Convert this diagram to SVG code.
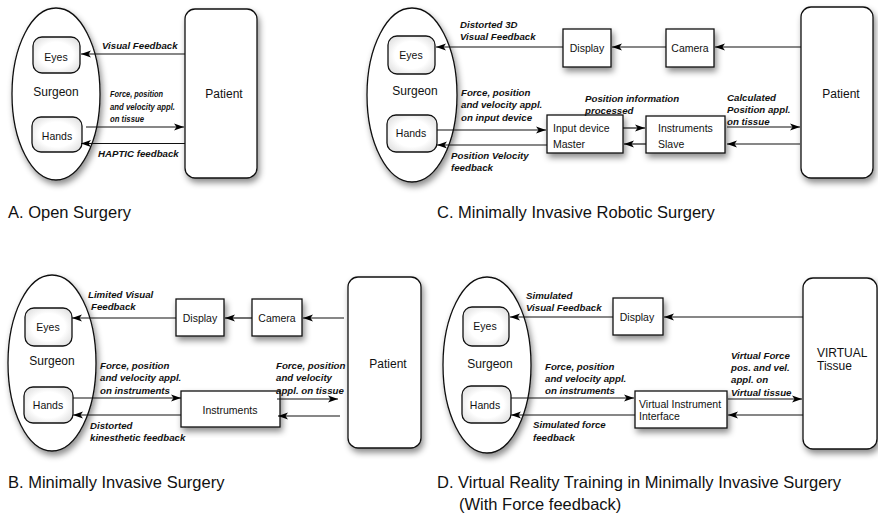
<svg xmlns="http://www.w3.org/2000/svg" width="878" height="515" viewBox="0 0 878 515">
<defs>
  <filter id="sh" x="-30%" y="-30%" width="160%" height="160%">
    <feDropShadow dx="2" dy="4" stdDeviation="3" flood-color="#000" flood-opacity="0.45"/>
  </filter>
  <radialGradient id="rg" cx="50%" cy="50%" r="65%">
    <stop offset="55%" stop-color="#ffffff"/>
    <stop offset="100%" stop-color="#dcdcdc"/>
  </radialGradient>
  <marker id="ah" markerUnits="userSpaceOnUse" markerWidth="11" markerHeight="8" refX="10" refY="4" orient="auto">
    <path d="M0,0.5 L10,4 L0,7.5 L2.5,4 z" fill="#000"/>
  </marker>
  <style>
    .ell{fill:#fff;stroke:#111;stroke-width:1.3;filter:url(#sh)}
    .box{fill:#fff;stroke:#111;stroke-width:1.3;filter:url(#sh)}
    .rbox{fill:url(#rg);stroke:#111;stroke-width:1.3}
    .big{fill:#fff;stroke:#111;stroke-width:1.3;filter:url(#sh)}
    .t{font-family:"Liberation Sans",Arial,sans-serif;fill:#111}
    .sm{font-size:10.5px}
    .md{font-size:12px}
    .lb{font-family:"Liberation Sans",Arial,sans-serif;font-size:9.7px;font-weight:bold;font-style:italic;fill:#111}
    .lbs{font-size:9px}
    .cap{font-family:"Liberation Sans",Arial,sans-serif;font-size:16.5px;fill:#111}
    .c line{stroke:#111;stroke-width:1.2;marker-end:url(#ah)}
  </style>
</defs>
<rect width="878" height="515" fill="#fff"/>

<!-- Panel A -->
<g id="A-surgeon">
  <ellipse class="ell" cx="56" cy="94" rx="44" ry="86"/>
  <text class="t md" x="56" y="95.5" text-anchor="middle">Surgeon</text>
</g>
<g id="A-eyes"><rect class="rbox" x="33" y="37" width="47" height="36" rx="9"/><text class="t sm" x="56" y="60.5" text-anchor="middle">Eyes</text></g>
<g id="A-hands"><rect class="rbox" x="32" y="117" width="50" height="35" rx="9"/><text class="t sm" x="57" y="139.5" text-anchor="middle">Hands</text></g>
<g id="A-patient"><rect class="big" x="185" y="9" width="72" height="169" rx="10"/><text class="t md" x="224" y="97.5" text-anchor="middle">Patient</text></g>

<!-- Panel C -->
<g id="C-surgeon">
  <ellipse class="ell" cx="412" cy="95" rx="45" ry="87"/>
  <text class="t md" x="415" y="94.5" text-anchor="middle">Surgeon</text>
</g>
<g id="C-eyes"><rect class="rbox" x="388" y="36" width="47" height="38" rx="9"/><text class="t sm" x="411" y="58.5" text-anchor="middle">Eyes</text></g>
<g id="C-hands"><rect class="rbox" x="387" y="115" width="50" height="37" rx="9"/><text class="t sm" x="411" y="136.5" text-anchor="middle">Hands</text></g>
<g id="C-display"><rect class="box" x="563" y="29" width="48" height="38"/><text class="t sm" x="587" y="51.5" text-anchor="middle">Display</text></g>
<g id="C-camera"><rect class="box" x="666" y="29" width="48" height="38"/><text class="t sm" x="690" y="51.5" text-anchor="middle">Camera</text></g>
<g id="C-input"><rect class="box" x="547" y="115" width="76" height="38"/><text class="t sm" x="553" y="131.5">Input device</text><text class="t sm" x="553" y="147.5">Master</text></g>
<g id="C-instruments"><rect class="box" x="646" y="116" width="79" height="37"/><text class="t sm" x="658" y="131.5">Instruments</text><text class="t sm" x="658" y="147.5">Slave</text></g>
<g id="C-patient"><rect class="big" x="801" y="7" width="72" height="171" rx="10"/><text class="t md" x="841" y="97.5" text-anchor="middle">Patient</text></g>

<!-- Panel B -->
<g id="B-surgeon">
  <ellipse class="ell" cx="52" cy="363" rx="44" ry="88"/>
  <text class="t md" x="52" y="364.5" text-anchor="middle">Surgeon</text>
</g>
<g id="B-eyes"><rect class="rbox" x="25" y="308" width="47" height="38" rx="9"/><text class="t sm" x="48" y="330.5" text-anchor="middle">Eyes</text></g>
<g id="B-hands"><rect class="rbox" x="24" y="387" width="49" height="36" rx="9"/><text class="t sm" x="48" y="408.5" text-anchor="middle">Hands</text></g>
<g id="B-display"><rect class="box" x="176" y="299" width="48" height="37"/><text class="t sm" x="200" y="321.5" text-anchor="middle">Display</text></g>
<g id="B-camera"><rect class="box" x="252" y="299" width="50" height="37"/><text class="t sm" x="277" y="321.5" text-anchor="middle">Camera</text></g>
<g id="B-instruments"><rect class="box" x="181" y="391" width="99" height="36"/><text class="t sm" x="230" y="413.5" text-anchor="middle">Instruments</text></g>
<g id="B-patient"><rect class="big" x="348" y="277" width="73" height="171" rx="10"/><text class="t md" x="388" y="367.5" text-anchor="middle">Patient</text></g>

<!-- Panel D -->
<g id="D-surgeon">
  <ellipse class="ell" cx="487" cy="365" rx="44" ry="88"/>
  <text class="t md" x="490" y="367.5" text-anchor="middle">Surgeon</text>
</g>
<g id="D-eyes"><rect class="rbox" x="463" y="307" width="46" height="39" rx="9"/><text class="t sm" x="485" y="330" text-anchor="middle">Eyes</text></g>
<g id="D-hands"><rect class="rbox" x="462" y="386" width="49" height="37" rx="9"/><text class="t sm" x="485" y="408.5" text-anchor="middle">Hands</text></g>
<g id="D-display"><rect class="box" x="613" y="298" width="50" height="37"/><text class="t sm" x="637" y="320.5" text-anchor="middle">Display</text></g>
<g id="D-vii"><rect class="box" x="635" y="391" width="92" height="37"/><text class="t sm" x="639" y="408">Virtual Instrument</text><text class="t sm" x="639" y="420">Interface</text></g>
<g id="D-tissue"><rect class="big" x="803" y="278" width="74" height="171" rx="10"/><text class="t md" x="817" y="357">VIRTUAL</text><text class="t md" x="817" y="370">Tissue</text></g>

<!-- Connectors -->
<g id="connectors" class="c">
  <!-- A -->
  <line x1="185" y1="54" x2="81" y2="54"/>
  <line x1="86" y1="127" x2="184" y2="127"/>
  <line x1="185" y1="143.5" x2="81" y2="143.5"/>
  <!-- C -->
  <line x1="801" y1="47" x2="715" y2="47"/>
  <line x1="666" y1="47" x2="612" y2="47"/>
  <line x1="563" y1="47" x2="436" y2="47"/>
  <line x1="437" y1="130" x2="546" y2="130"/>
  <line x1="547" y1="145" x2="437" y2="145"/>
  <line x1="623" y1="128" x2="645" y2="128"/>
  <line x1="646" y1="144" x2="624" y2="144"/>
  <line x1="727" y1="127" x2="800" y2="127"/>
  <line x1="800" y1="144" x2="727" y2="144"/>
  <!-- B -->
  <line x1="344" y1="318" x2="303" y2="318"/>
  <line x1="252" y1="318" x2="225" y2="318"/>
  <line x1="176" y1="318" x2="72" y2="318"/>
  <line x1="73" y1="398" x2="181" y2="398"/>
  <line x1="181" y1="415" x2="73" y2="415"/>
  <line x1="277" y1="399" x2="338" y2="399"/>
  <line x1="340" y1="416" x2="278" y2="416"/>
  <!-- D -->
  <line x1="803" y1="317" x2="664" y2="317"/>
  <line x1="613" y1="317" x2="510" y2="317"/>
  <line x1="511" y1="398" x2="634" y2="398"/>
  <line x1="635" y1="415" x2="511" y2="415"/>
  <line x1="728" y1="399" x2="802" y2="399"/>
  <line x1="803" y1="415" x2="728" y2="415"/>
</g>

<!-- Connector labels -->
<g id="labels">
  <text class="lb" x="102" y="48.5">Visual Feedback</text>
  <text class="lb lbs" x="110" y="97" textLength="53" lengthAdjust="spacingAndGlyphs">Force, position</text>
  <text class="lb lbs" x="110" y="110" textLength="65" lengthAdjust="spacingAndGlyphs">and velocity appl.</text>
  <text class="lb lbs" x="110" y="122" textLength="34" lengthAdjust="spacingAndGlyphs">on tissue</text>
  <text class="lb" x="98" y="157">HAPTIC feedback</text>

  <text class="lb" x="460" y="27.5">Distorted 3D</text>
  <text class="lb" x="460" y="39.5">Visual Feedback</text>
  <text class="lb" x="461" y="95.5">Force, position</text>
  <text class="lb" x="461" y="108">and velocity appl.</text>
  <text class="lb" x="461" y="120.5">on input device</text>
  <text class="lb" x="451" y="158.5">Position Velocity</text>
  <text class="lb" x="451" y="170.5">feedback</text>
  <text class="lb" x="585" y="101.5">Position information</text>
  <text class="lb" x="585" y="113.5">processed</text>
  <text class="lb" x="727" y="100.5">Calculated</text>
  <text class="lb" x="727" y="112.5">Position appl.</text>
  <text class="lb" x="727" y="124.5">on tissue</text>

  <text class="lb" x="88" y="297.5">Limited Visual</text>
  <text class="lb" x="91" y="309.5">Feedback</text>
  <text class="lb" x="100" y="368.5">Force, position</text>
  <text class="lb" x="100" y="381">and velocity appl.</text>
  <text class="lb" x="100" y="393.5">on instruments</text>
  <text class="lb" x="90" y="428.5">Distorted</text>
  <text class="lb" x="90" y="440.5">kinesthetic feedback</text>
  <text class="lb" x="276" y="368.5">Force, position</text>
  <text class="lb" x="276" y="381">and velocity</text>
  <text class="lb" x="276" y="393.5">appl. on tissue</text>

  <text class="lb" x="526" y="298.5">Simulated</text>
  <text class="lb" x="526" y="311">Visual Feedback</text>
  <text class="lb" x="545" y="369.5">Force, position</text>
  <text class="lb" x="545" y="381.5">and velocity appl.</text>
  <text class="lb" x="545" y="393.5">on instruments</text>
  <text class="lb" x="533" y="428">Simulated force</text>
  <text class="lb" x="533" y="440.5">feedback</text>
  <text class="lb" x="731" y="358.5">Virtual Force</text>
  <text class="lb" x="731" y="370.5">pos. and vel.</text>
  <text class="lb" x="731" y="383">appl. on</text>
  <text class="lb" x="731" y="395.5">Virtual tissue</text>
</g>

<!-- Captions -->
<g id="captions">
  <text class="cap" x="8" y="218">A. Open Surgery</text>
  <text class="cap" x="437" y="218">C. Minimally Invasive Robotic Surgery</text>
  <text class="cap" x="8" y="488">B. Minimally Invasive Surgery</text>
  <text class="cap" x="437" y="488">D. Virtual Reality Training in Minimally Invasive Surgery</text>
  <text class="cap" x="459" y="510">(With Force feedback)</text>
</g>
</svg>
